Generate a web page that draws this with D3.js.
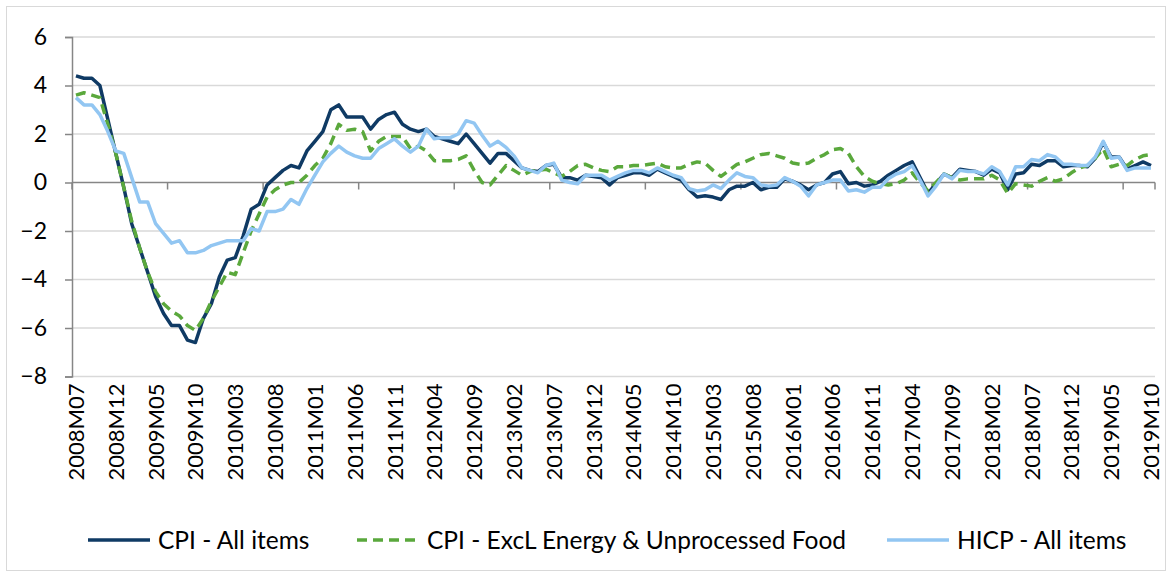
<!DOCTYPE html>
<html>
<head>
<meta charset="utf-8">
<script src="https://cdn.jsdelivr.net/npm/d3@7"></script>
<style>
  body { margin: 0; background: #fff; }
  text { font-family: Lato, "Open Sans", sans-serif; fill: #000; }
</style>
</head>
<body>
<script>
const m = { width: 1173, height: 577, left: 72, right: 1155, top: 37, bottom: 376.5 }

// months 2008M07 .. 2019M10
const months = []
for (let yr = 2008; yr <= 2019; yr++) {
    for (let mo = 1; mo <= 12; mo++) {
        if (yr === 2008 && mo < 7) continue
        if (yr === 2019 && mo > 10) continue
        months.push(yr + 'M' + (mo < 10 ? '0' + mo : mo))
    }
}

const yTicks = [-8, -6, -4, -2, 0, 2, 4, 6]

const cpiAll = [
    4.4, 4.3, 4.3, 4.0, 2.6, 1.2, -0.2, -1.7, -2.7, -3.7,
    -4.7, -5.4, -5.9, -5.9, -6.5, -6.6, -5.6, -5.0, -3.9, -3.2,
    -3.1, -2.2, -1.1, -0.9, -0.1, 0.2, 0.5, 0.7, 0.6, 1.3,
    1.7, 2.1, 3.0, 3.2, 2.7, 2.7, 2.7, 2.2, 2.6, 2.8,
    2.9, 2.4, 2.2, 2.1, 2.2, 1.9, 1.8, 1.7, 1.6, 2.0,
    1.6, 1.2, 0.8, 1.2, 1.2, 0.9, 0.6, 0.5, 0.45, 0.7,
    0.75, 0.2, 0.2, 0.1, 0.3, 0.25, 0.2, -0.1, 0.2, 0.3,
    0.4, 0.4, 0.3, 0.55, 0.4, 0.25, 0.1, -0.3, -0.6, -0.55,
    -0.6, -0.7, -0.3, -0.15, -0.15, 0.0, -0.3, -0.2, -0.2, 0.15,
    0.05, -0.1, -0.3, -0.1, 0.0, 0.35, 0.45, -0.05, 0.0, -0.15,
    -0.1, 0.05, 0.3, 0.5, 0.7, 0.85, 0.2, -0.45, -0.05, 0.35,
    0.2, 0.55, 0.5, 0.45, 0.3, 0.55, 0.4, -0.3, 0.35, 0.4,
    0.75, 0.7, 0.9, 0.9, 0.65, 0.7, 0.7, 0.65, 1.0, 1.65,
    1.05, 1.05, 0.55, 0.7, 0.85, 0.7
]

const cpiExcl = [
    3.6, 3.7, 3.6, 3.5, 2.4, 1.2, -0.2, -1.6, -2.7, -3.7,
    -4.5, -5.0, -5.3, -5.5, -5.9, -6.1, -5.6, -4.9, -4.3, -3.7,
    -3.8, -2.9, -2.0, -1.3, -0.6, -0.3, -0.1, 0.0, 0.0, 0.3,
    0.7, 1.0, 1.6, 2.4, 2.15, 2.2, 2.1, 1.3, 1.7, 1.9,
    1.9, 1.9, 1.4, 1.5, 1.3, 0.9, 0.9, 0.9, 0.95, 1.1,
    0.5, 0.0, -0.1, 0.3, 0.7, 0.5, 0.3, 0.45, 0.5, 0.55,
    0.4, 0.25, 0.45, 0.7, 0.75, 0.6, 0.5, 0.45, 0.65, 0.65,
    0.7, 0.7, 0.75, 0.8, 0.65, 0.6, 0.6, 0.75, 0.85, 0.8,
    0.5, 0.25, 0.5, 0.75, 0.85, 1.0, 1.15, 1.2, 1.1, 1.0,
    0.8, 0.75, 0.8, 1.0, 1.15, 1.35, 1.4, 1.2, 0.65, 0.25,
    0.05, -0.05, -0.1, -0.05, 0.1, 0.4, 0.0, -0.35, 0.0, 0.35,
    0.2, 0.1, 0.15, 0.15, 0.15, 0.3, 0.1, -0.45, -0.05, -0.1,
    -0.15, 0.05, 0.2, 0.05, 0.15, 0.4, 0.6, 0.7, 1.0, 1.4,
    0.65, 0.75, 0.7, 0.95, 1.1, 1.15
]

const hicpAll = [
    3.5, 3.2, 3.2, 2.8, 2.1, 1.3, 1.2, 0.2, -0.8, -0.8,
    -1.7, -2.1, -2.5, -2.4, -2.9, -2.9, -2.8, -2.6, -2.5, -2.4,
    -2.4, -2.4, -1.9, -2.0, -1.2, -1.2, -1.1, -0.7, -0.9, -0.25,
    0.3, 0.85, 1.2, 1.5, 1.25, 1.1, 1.0, 1.0, 1.4, 1.6,
    1.8, 1.5, 1.25, 1.5, 2.2, 1.8, 1.85, 1.85, 2.0, 2.55,
    2.45, 1.95, 1.5, 1.7, 1.45, 1.1, 0.6, 0.5, 0.4, 0.7,
    0.8, 0.1, 0.0, -0.05, 0.3, 0.3, 0.3, 0.1, 0.25, 0.4,
    0.5, 0.5, 0.4, 0.6, 0.45, 0.3, 0.2, -0.25, -0.35, -0.3,
    -0.1, -0.25, 0.1, 0.4, 0.25, 0.2, -0.1, -0.15, -0.1, 0.2,
    0.05, -0.15, -0.55, -0.1, 0.0, 0.1, 0.1, -0.35, -0.3, -0.4,
    -0.2, -0.2, 0.15, 0.35, 0.45, 0.7, 0.1, -0.55, -0.15, 0.35,
    0.15, 0.5, 0.45, 0.45, 0.35, 0.65, 0.45, -0.1, 0.65, 0.65,
    0.95, 0.9, 1.15, 1.05, 0.75, 0.75, 0.7, 0.7, 1.05, 1.7,
    1.0, 1.05, 0.5, 0.6, 0.6, 0.6
]

const series = [
    { name: 'CPI - All items', values: cpiAll, color: '#0f3a64', dash: null },
    { name: 'CPI - ExcL Energy & Unprocessed Food', values: cpiExcl, color: '#5aa83c', dash: '10,6' },
    { name: 'HICP - All items', values: hicpAll, color: '#92c6f2', dash: null }
]

const svg = d3.select('body').append('svg')
    .attr('width', m.width)
    .attr('height', m.height)

// outer chart border
svg.append('rect')
    .attr('x', 6.5).attr('y', 6.5)
    .attr('width', 1159).attr('height', 564)
    .attr('fill', 'none')
    .attr('stroke', '#d9d9d9')

const x = d3.scaleBand()
    .domain(months)
    .range([m.left, m.right])

const y = d3.scaleLinear()
    .domain([-8, 6])
    .range([m.bottom, m.top])

const g = svg.append('g')

// gridlines
g.selectAll('.grid')
    .data(yTicks.filter(d => d !== 0))
    .enter()
    .append('line')
        .attr('x1', m.left).attr('x2', m.right)
        .attr('y1', d => y(d)).attr('y2', d => y(d))
        .attr('stroke', '#d9d9d9')
        .attr('stroke-width', 1.5)

// y axis
const yAxis = g.append('g')
    .attr('transform', `translate(${m.left},0)`)
    .call(d3.axisLeft(y).tickValues(yTicks).tickSize(7).tickPadding(18))
yAxis.select('.domain').attr('stroke', '#868686').attr('stroke-width', 1.5)
yAxis.selectAll('.tick line').attr('stroke', '#868686').attr('stroke-width', 1.5)
yAxis.selectAll('.tick text')
    .style('font-size', '23px')
    .style('font-family', 'Lato, sans-serif')
    .attr('fill', '#000')

// x axis at zero
g.append('line')
    .attr('x1', m.left).attr('x2', m.right)
    .attr('y1', y(0)).attr('y2', y(0))
    .attr('stroke', '#868686')
    .attr('stroke-width', 1.5)

const yearTicks = months.filter((d, i) => i % 12 === 0).concat([null])
g.selectAll('.xtick')
    .data(yearTicks)
    .enter()
    .append('line')
        .attr('x1', d => d ? x(d) : m.right)
        .attr('x2', d => d ? x(d) : m.right)
        .attr('y1', y(0)).attr('y2', y(0) + 7)
        .attr('stroke', '#868686')
        .attr('stroke-width', 1.5)

// category labels every 5 months
g.selectAll('.xlabel')
    .data(months.filter((d, i) => i % 5 === 0))
    .enter()
    .append('text')
        .attr('transform', d => `translate(${x(d) + x.bandwidth() / 2 + 8},${m.bottom + 7}) rotate(-90)`)
        .attr('text-anchor', 'end')
        .style('font-size', '22px')
        .text(d => d)

// lines
const line = d3.line()
    .x((d, i) => x(months[i]) + x.bandwidth() / 2)
    .y(d => y(d))

g.selectAll('.series')
    .data(series)
    .enter()
    .append('path')
        .attr('d', d => line(d.values))
        .attr('fill', 'none')
        .attr('stroke', d => d.color)
        .attr('stroke-width', 3.5)
        .attr('stroke-linejoin', 'round')
        .attr('stroke-dasharray', d => d.dash)

// legend
const legendX = [88, 357, 887]
const leg = g.selectAll('.legend')
    .data(series)
    .enter()
    .append('g')
        .attr('transform', (d, i) => `translate(${legendX[i]},540)`)

leg.append('line')
    .attr('x1', 0).attr('x2', 62)
    .attr('stroke', d => d.color)
    .attr('stroke-width', 3.5)
    .attr('stroke-dasharray', d => d.dash)

leg.append('text')
    .attr('x', 70)
    .attr('dy', '0.35em')
    .style('font-size', '24.5px')
    .text(d => d.name)
</script>
</body>
</html>
